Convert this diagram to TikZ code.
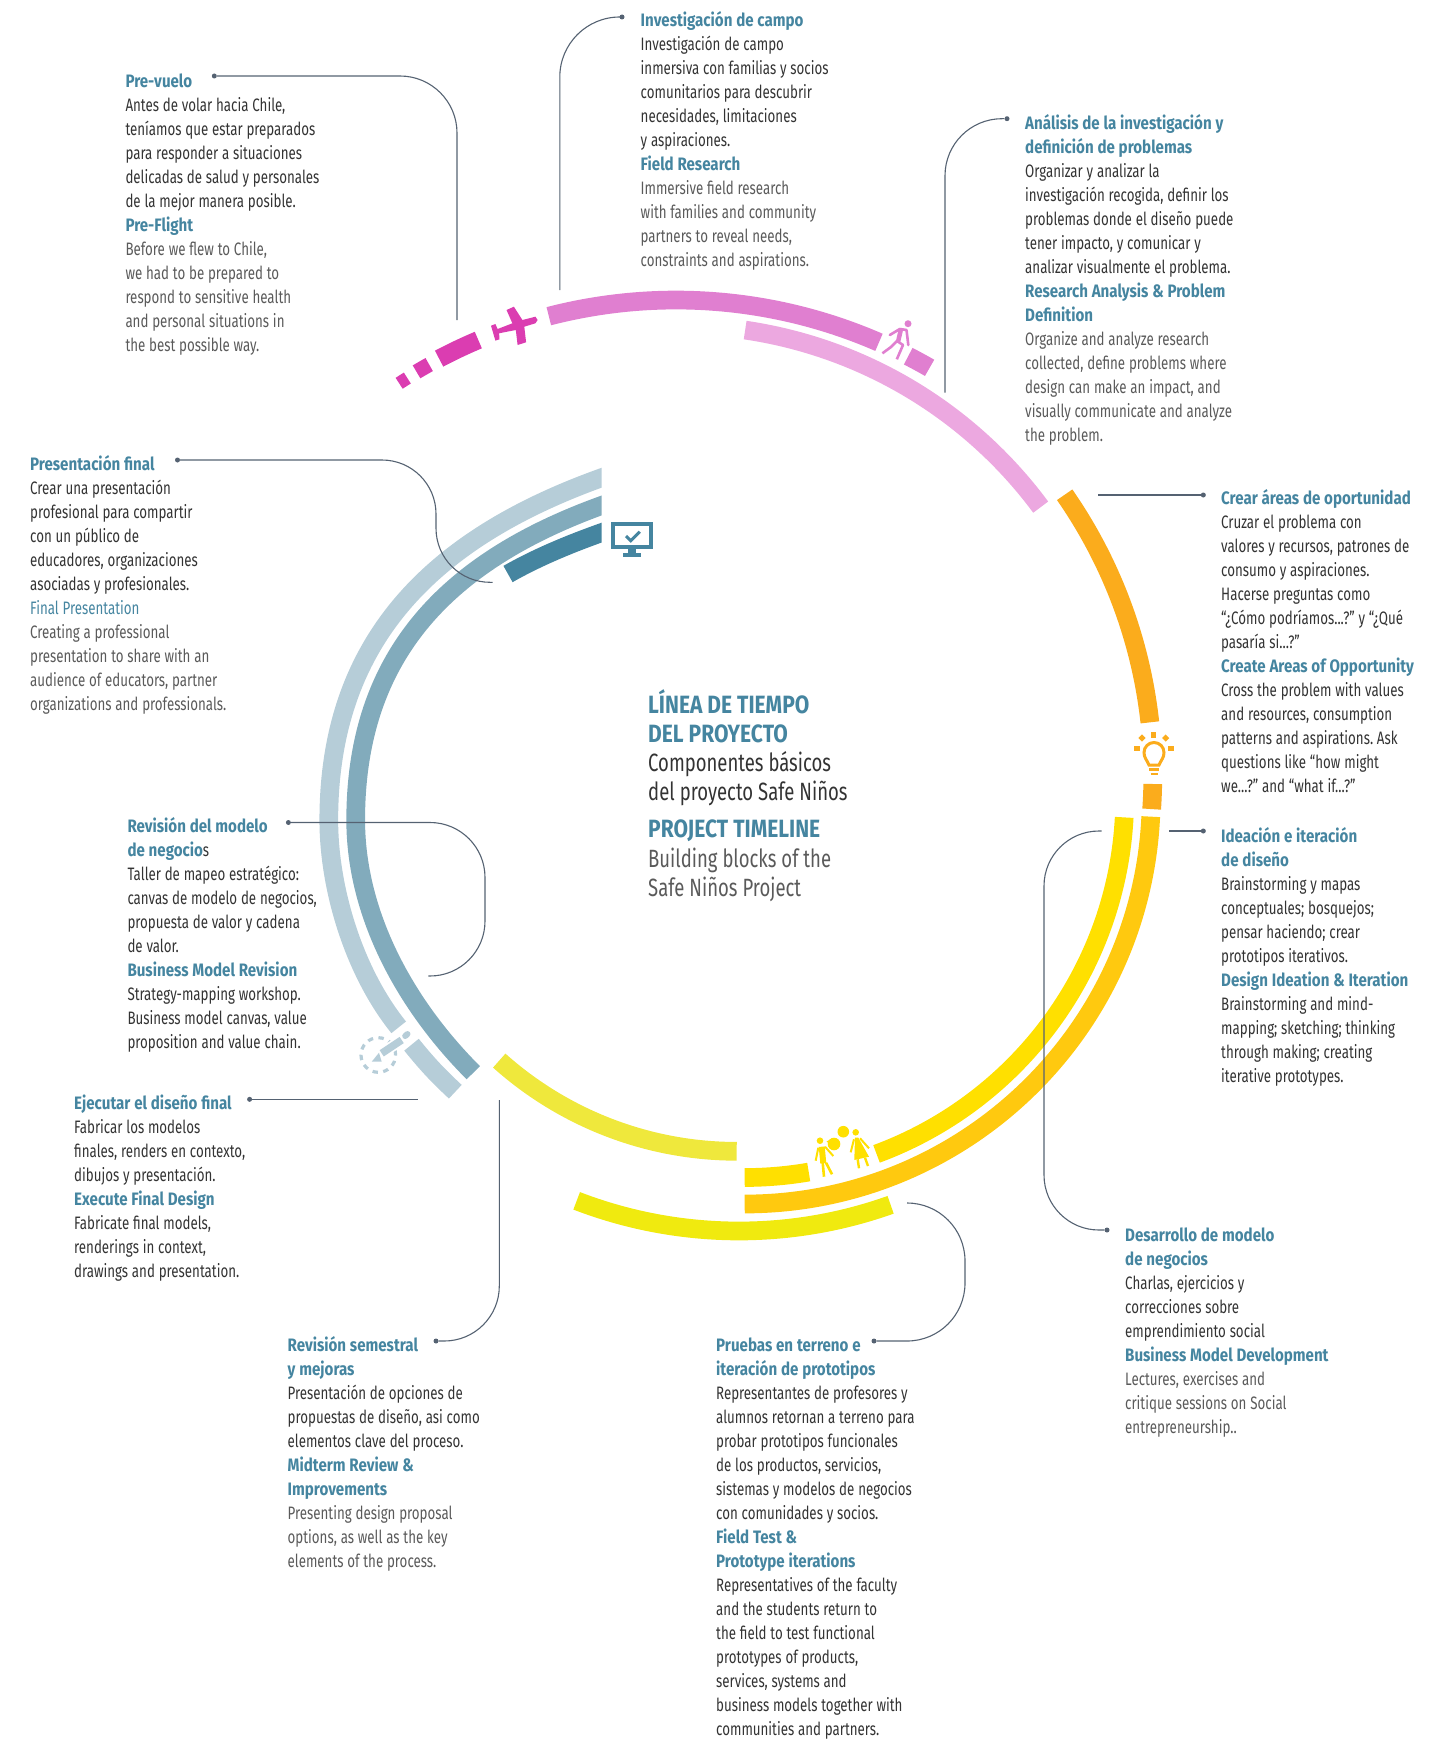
\documentclass[tikz,border=0pt]{standalone}
\usepackage{fontspec}
\setmainfont[FakeStretch=0.74,BoldFeatures={FakeStretch=0.84}]{Fira Sans}
\usetikzlibrary{%
	calc,%
	arrows
}

\definecolor{cmagenta}{HTML}{DB3DB1}
\definecolor{cpink}{HTML}{E07FD0}
\definecolor{cpinklt}{HTML}{ECA8E0}
\definecolor{corange}{HTML}{FBAC1C}
\definecolor{camber}{HTML}{FFC90F}
\definecolor{cyellow}{HTML}{FFE000}
\definecolor{clemon}{HTML}{F0EA0F}
\definecolor{cpale}{HTML}{EFE83C}
\definecolor{ctealdk}{HTML}{4585A0}
\definecolor{ctealmd}{HTML}{82ABBC}
\definecolor{cteallt}{HTML}{B6CDD8}
\definecolor{cleader}{HTML}{556272}
\definecolor{ces}{HTML}{333333}
\definecolor{cen}{HTML}{5A5A5A}

\tikzset{
	ring/.style={line width=18.7pt},
	leader/.style={cleader, line width=1.1pt},
	dotmark/.style={circle, fill=cleader, inner sep=0pt, minimum size=5pt},
	txt/.style={anchor=north west, inner sep=0pt, text width=330pt, align=left,
		font=\fontsize{18}{24}\selectfont, execute at begin node={\spaceskip=3.8pt\xspaceskip=3.8pt\strut\color{ces}}},
	ttl/.style={anchor=north west, inner sep=0pt, text width=330pt, align=left,
		font=\fontsize{25}{29.2}\selectfont, execute at begin node={\spaceskip=5pt\xspaceskip=5pt\strut}}
}

\newcommand{\hd}[1]{{\bfseries\color{ctealdk}#1}}
\newcommand{\ringarc}[6]{\draw[ring,#1] (#2,-#3) ++(#5:#4) arc (#5:#6:#4);}

\begin{document}
\begin{tikzpicture}[x=1pt,y=1pt]
	\useasboundingbox (0,0) rectangle (1442,-1739);

	% Rings
	\ringarc{cmagenta,line width=13pt}{676}{808}{507}{123.1}{122.0}
	\ringarc{cmagenta,line width=15pt}{676}{808}{507.5}{120.75}{119.1}
	\ringarc{cmagenta,line width=18pt}{676}{808}{508}{117.8}{112.9}
	\ringarc{cpink}{676}{808}{508}{104.5}{66.45}
	\ringarc{cpink}{676}{808}{508}{62.8}{60.05}
	\ringarc{cpinklt}{680}{774}{448.7}{81.65}{36.5}
	\ringarc{corange}{660}{776}{492.8}{34.8}{6.25}
	\ringarc{corange}{660}{776}{492.8}{-0.93}{-3.85}
	\ringarc{camber}{744.7}{797.5}{406.5}{-2.7}{-90}
	\ringarc{cyellow}{744.7}{797.5}{380}{-3}{-69.7}
	\ringarc{cyellow}{744.7}{797.5}{380}{-80.3}{-90}
	\ringarc{clemon}{739}{779}{452}{-111.05}{-70.4}
	\ringarc{cpale}{736.7}{795}{356.3}{-131.8}{-90}
	% Teal rings, cut square at the top
	\begin{scope}
		\clip (0,0) rectangle (601.7,-1739);
		\draw[ring,ctealdk] (625,-524.5) .. controls (585,-538) and (545,-553) .. (508,-574);
		\draw[ring,ctealmd] (625,-497.4) .. controls (459.2,-551.5) and (355.7,-645) .. (355.7,-820)
			.. controls (355.7,-915) and (406,-1005.5) .. (473.3,-1072.7);
		\draw[ring,cteallt] (625,-469.7) .. controls (444.9,-528.5) and (328.8,-630) .. (328.8,-820)
			.. controls (328.8,-890) and (354.6,-972.7) .. (398.7,-1027.3);
	\end{scope}
	\draw[ring,cteallt] (411.5,-1044.7) to[bend right=4] (455.3,-1091.7);

	% Icons
	\fill[cmagenta] (535.4,-316.7) -- (522.4,-320) -- (513.9,-306.7) -- (506.5,-310) -- (512.4,-323.3)
		-- (497.6,-329) -- (495.4,-324) -- (491,-325.7) -- (495.4,-340.7) -- (499.5,-339.3) -- (499.1,-333.3)
		-- (515.8,-330) -- (517.6,-345) -- (526.1,-342.3) -- (524.3,-326.7) -- (535.4,-323.3) -- (537.6,-320) -- cycle;
	% walker
	\fill[cpink] (908,-323.7) circle (3.5);
	\draw[cpink, line width=2.6pt, line cap=round, line join=round] (889.8,-335) -- (899.8,-329) -- (906.5,-330) -- (908.3,-345);
	\draw[cpink, line width=4.5pt] (901,-329) -- (898,-342);
	\draw[cpink, line width=2.6pt, line join=round] (882.4,-353.3) -- (891,-347) -- (897,-341) -- (903,-345) -- (896.8,-359.3);
	% lightbulb
	\draw[corange, line width=3pt] (1149,-765) .. controls (1147,-760) and (1144,-758) .. (1144,-752.5)
		arc (180:0:10) .. controls (1164,-758) and (1161,-760) .. (1159,-765) -- cycle;
	\draw[corange, line width=3pt] (1149,-769.5) -- (1159,-769.5);
	\draw[corange, line width=2.5pt] (1150.5,-774) -- (1157.5,-774);
	\fill[corange] (1150.8,-731.5) rectangle (1155.8,-737.5);
	\fill[corange] (1134,-745.8) rectangle (1140,-750.8);
	\fill[corange] (1168,-745.8) rectangle (1174,-750.8);
	\fill[corange, rotate around={45:(1142,-738)}] (1139.5,-735.5) rectangle (1144.5,-740.5);
	\fill[corange, rotate around={45:(1165.7,-738)}] (1163.2,-735.5) rectangle (1168.2,-740.5);
	% people
	\fill[cyellow] (820,-1140.7) circle (3.3);
	\draw[cyellow, line width=2pt] (818.3,-1147.7) -- (815.7,-1160.7);
	\draw[cyellow, line width=2pt] (825,-1146.7) -- (833.3,-1156);
	\draw[cyellow, line width=6pt] (821.7,-1146.7) -- (823.3,-1163.3);
	\draw[cyellow, line width=2.6pt] (822.7,-1162.7) -- (824,-1176.7);
	\draw[cyellow, line width=2.6pt] (826,-1162.7) -- (832,-1174.3);
	\fill[cyellow] (855.7,-1132.3) circle (3.3);
	\fill[cyellow] (855,-1137.7) -- (858.3,-1137.7) -- (869,-1156.7) -- (854.3,-1160) -- cycle;
	\draw[cyellow, line width=2pt] (854,-1139.3) -- (850.7,-1152.3);
	\draw[cyellow, line width=2pt] (860,-1138.3) -- (869,-1148.3);
	\draw[cyellow, line width=2.4pt] (857.7,-1159.3) -- (859,-1168.3);
	\draw[cyellow, line width=2.4pt] (865,-1157.7) -- (868,-1166);
	\fill[cyellow] (843.3,-1131.7) circle (5.8);
	\fill[cyellow] (834,-1144) circle (6.3);
	\fill[cyellow] (826.5,-1141.6) -- (830,-1139.5) -- (830,-1144) -- cycle;
	% pencil
	\draw[cteallt, line width=3.2pt, dash pattern=on 5.4pt off 5.4pt] (378.3,-1055) circle (17.3);
	\draw[white, line width=11pt] (381.7,-1053.3) -- (401.7,-1040);
	\draw[cteallt, line width=7.5pt] (381.7,-1053.3) -- (401.7,-1040);
	\fill[cteallt] (371.7,-1061.7) -- (379,-1052.7) -- (381.7,-1061.7) -- cycle;
	\draw[cteallt, line width=6pt, line cap=round] (405.2,-1036) -- (407.5,-1034);
	% monitor
	\fill[ctealdk] (610.5,-522.3) rectangle (653,-548.7);
	\fill[white] (615,-526) rectangle (649,-545);
	\fill[ctealdk] (628,-548.7) rectangle (636,-553.3);
	\fill[ctealdk] (623.4,-553.3) rectangle (640.8,-556.7);
	\draw[ctealdk, line width=3pt] (626,-536) -- (630.8,-540.7) -- (639.7,-531.7);

	% Nodes
	\node[ttl] (centro) at (648,-689) {\hd{LÍNEA DE TIEMPO}\\ \hd{DEL PROYECTO}\\ \color{ces}Componentes básicos\\ del proyecto Safe Niños\\[8pt] \hd{PROJECT TIMELINE}\\ \color{cen}Building blocks of the\\ Safe Niños Project};

	\node[txt] (prevuelo) at (125.3,-70.5) {\hd{Pre-vuelo}\\ Antes de volar hacia Chile,\\ teníamos que estar preparados\\ para responder a situaciones\\ delicadas de salud y personales\\ de la mejor manera posible.\\ \hd{Pre-Flight}\\ \color{cen}Before we flew to Chile,\\ we had to be prepared to\\ respond to sensitive health\\ and personal situations in\\ the best possible way.};

	\node[txt] (campo) at (640.5,-9.5) {\hd{Investigación de campo}\\ Investigación de campo\\ inmersiva con familias y socios\\ comunitarios para descubrir\\ necesidades, limitaciones\\ y aspiraciones.\\ \hd{Field Research}\\ \color{cen}Immersive field research\\ with families and community\\ partners to reveal needs,\\ constraints and aspirations.};

	\node[txt] (analisis) at (1025,-112.5) {\hd{Análisis de la investigación y}\\ \hd{definición de problemas}\\ Organizar y analizar la\\ investigación recogida, definir los\\ problemas donde el diseño puede\\ tener impacto, y comunicar y\\ analizar visualmente el problema.\\ \hd{Research Analysis \& Problem}\\ \hd{Definition}\\ \color{cen}Organize and analyze research\\ collected, define problems where\\ design can make an impact, and\\ visually communicate and analyze\\ the problem.};

	\node[txt] (crear) at (1221,-487) {\hd{Crear áreas de oportunidad}\\ Cruzar el problema con\\ valores y recursos, patrones de\\ consumo y aspiraciones.\\ Hacerse preguntas como\\ “¿Cómo podríamos...?” y “¿Qué\\ pasaría si...?”\\ \hd{Create Areas of Opportunity}\\ Cross the problem with values\\ and resources, consumption\\ patterns and aspirations. Ask\\ questions like “how might\\ we...?” and “what if...?”};

	\node[txt] (ideacion) at (1221,-825) {\hd{Ideación e iteración}\\ \hd{de diseño}\\ Brainstorming y mapas\\ conceptuales; bosquejos;\\ pensar haciendo; crear\\ prototipos iterativos.\\ \hd{Design Ideation \& Iteration}\\ Brainstorming and mind-\\ mapping; sketching; thinking\\ through making; creating\\ iterative prototypes.};

	\node[txt] (desarrollo) at (1125,-1224.5) {\hd{Desarrollo de modelo}\\ \hd{de negocios}\\ Charlas, ejercicios y\\ correcciones sobre\\ emprendimiento social\\ \hd{Business Model Development}\\ \color{cen}Lectures, exercises and\\ critique sessions on Social\\ entrepreneurship..};

	\node[txt] (pruebas) at (716,-1334) {\hd{Pruebas en terreno e}\\ \hd{iteración de prototipos}\\ Representantes de profesores y\\ alumnos retornan a terreno para\\ probar prototipos funcionales\\ de los productos, servicios,\\ sistemas y modelos de negocios\\ con comunidades y socios.\\ \hd{Field Test \&}\\ \hd{Prototype iterations}\\ Representatives of the faculty\\ and the students return to\\ the field to test functional\\ prototypes of products,\\ services, systems and\\ business models together with\\ communities and partners.};

	\node[txt] (semestral) at (287.5,-1334) {\hd{Revisión semestral}\\ \hd{y mejoras}\\ Presentación de opciones de\\ propuestas de diseño, asi como\\ elementos clave del proceso.\\ \hd{Midterm Review \&}\\ \hd{Improvements}\\ \color{cen}Presenting design proposal\\ options, as well as the key\\ elements of the process.};

	\node[txt] (ejecutar) at (74,-1092) {\hd{Ejecutar el diseño final}\\ Fabricar los modelos\\ finales, renders en contexto,\\ dibujos y presentación.\\ \hd{Execute Final Design}\\ Fabricate final models,\\ renderings in context,\\ drawings and presentation.};

	\node[txt] (modelo) at (127.3,-815) {\hd{Revisión del modelo}\\ \hd{de negocio}s\\ Taller de mapeo estratégico:\\ canvas de modelo de negocios,\\ propuesta de valor y cadena\\ de valor.\\ \hd{Business Model Revision}\\ Strategy-mapping workshop.\\ Business model canvas, value\\ proposition and value chain.};

	\node[txt] (presentacion) at (30,-453) {\hd{Presentación final}\\ Crear una presentación\\ profesional para compartir\\ con un público de\\ educadores, organizaciones\\ asociadas y profesionales.\\ {\color{ctealdk}Final Presentation}\\ \color{cen}Creating a professional\\ presentation to share with an\\ audience of educators, partner\\ organizations and professionals.};

	% Leaders
	\node[dotmark] (dPrevuelo) at (214.3,-76) {};
	\node[dotmark] (dCampo) at (622,-17) {};
	\node[dotmark] (dAnalisis) at (1007,-118.7) {};
	\node[dotmark] (dCrear) at (1203.3,-495) {};
	\node[dotmark] (dIdeacion) at (1203.3,-831) {};
	\node[dotmark] (dDesarrollo) at (1107,-1230) {};
	\node[dotmark] (dPruebas) at (874,-1341) {};
	\node[dotmark] (dSemestral) at (436,-1341) {};
	\node[dotmark] (dEjecutar) at (249.6,-1099.3) {};
	\node[dotmark] (dModelo) at (288.4,-822.5) {};
	\node[dotmark] (dPresentacion) at (177.5,-460) {};

	\coordinate (ePrevuelo) at (457,-320);
	\coordinate (eCampo) at (559.8,-290);
	\coordinate (eAnalisis) at (945,-392.7);
	\coordinate (eCrear) at (1098,-495);
	\coordinate (eIdeacion) at (1169,-831);
	\coordinate (eDesarrollo) at (1101.7,-831);
	\coordinate (ePruebas) at (907.7,-1203);
	\coordinate (eSemestral) at (499.3,-1100);
	\coordinate (eEjecutar) at (418.3,-1099.3);
	\coordinate (eModelo) at (428.3,-976);
	\coordinate (ePresentacion) at (492.7,-582.3);

	\draw[leader, rounded corners=57pt] (dPrevuelo) -| (ePrevuelo);
	\draw[leader, rounded corners=60pt] (dCampo) -| (eCampo);
	\draw[leader, rounded corners=57pt] (dAnalisis) -| (eAnalisis);
	\draw[leader] (dCrear) -- (eCrear);
	\draw[leader] (dIdeacion) -- (eIdeacion);
	\draw[leader, rounded corners=55pt] (eDesarrollo) -- (1044,-831) -- (1044,-1230) -- (dDesarrollo);
	\draw[leader, rounded corners=58pt] (ePruebas) -- (965,-1203) -- (965,-1341) -- (dPruebas);
	\draw[leader, rounded corners=55pt] (eSemestral) |- (dSemestral);
	\draw[leader] (dEjecutar) -- (eEjecutar);
	\draw[leader, rounded corners=55pt] (dModelo) -- (485,-822.5) -- (485,-976) -- (eModelo);
	\draw[leader, rounded corners=54pt] (dPresentacion) -- (436,-460) -- (436,-582.3) -- (ePresentacion);
\end{tikzpicture}
\end{document}
